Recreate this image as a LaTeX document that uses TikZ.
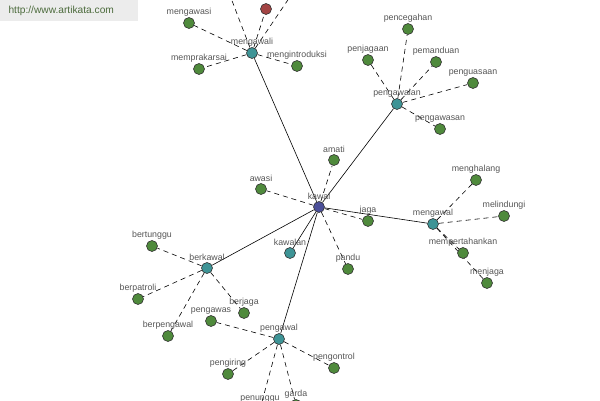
\documentclass[tikz,border=0pt]{standalone}
\usepackage{fontspec}
\setmainfont{Liberation Sans}
\usepackage{xcolor}
\usetikzlibrary{backgrounds}
\definecolor{LeafGreen}{HTML}{4F8A3C}
\definecolor{HubTeal}{HTML}{3E9496}
\definecolor{RootBlue}{HTML}{4B4F99}
\definecolor{OddRed}{HTML}{A34444}
\definecolor{LabelGray}{HTML}{555555}
\definecolor{MarkGray}{HTML}{ECECEC}
\definecolor{MarkText}{HTML}{4C6B3C}

\begin{document}
\begin{tikzpicture}[x=1pt,y=-1pt,
  leaf/.style={circle,draw=black!80,fill=LeafGreen,inner sep=0pt,minimum size=11pt,line width=0.6pt},
  hub/.style={leaf,fill=HubTeal},
  root/.style={leaf,fill=RootBlue},
  odd/.style={leaf,fill=OddRed},
  lbl/.style={font=\fontsize{8.8}{10}\selectfont,text=LabelGray,inner sep=1pt},
  link/.style={line width=0.6pt},
  weak/.style={line width=0.6pt,dash pattern=on 5pt off 4pt}
]
\useasboundingbox (0,0) rectangle (600,400);
% watermark
\fill[MarkGray] (0,0) rectangle (138,21);
\node[font=\fontsize{10.2}{11}\selectfont,text=MarkText,anchor=west] (site) at (5,11) {http://www.artikata.com};
% centre
\node[root,label={[lbl]above:kawal}] (kawal) at (319,207) {};
\node[leaf,label={[lbl]above:amati}] (amati) at (334,160) {};
\node[leaf,label={[lbl]above:awasi}] (awasi) at (261,189) {};
\node[leaf,label={[lbl]above:jaga}] (jaga) at (368,221) {};
\node[leaf,label={[lbl]above:pandu}] (pandu) at (348,269) {};
\node[hub,label={[lbl]above:kawalan}] (kawalan) at (290,253) {};
% mengawal
\node[hub,label={[lbl]above:mengawal}] (mengawal) at (433,224) {};
\node[leaf,label={[lbl]above:menghalang}] (menghalang) at (476,180) {};
\node[leaf,label={[lbl]above:melindungi}] (melindungi) at (504,216) {};
\node[leaf,label={[lbl]above:mempertahankan}] (mempertahankan) at (463,253) {};
\node[leaf,label={[lbl]above:menjaga}] (menjaga) at (487,283) {};
% pengawalan
\node[hub,label={[lbl]above:pengawalan}] (pengawalan) at (397,104) {};
\node[leaf,label={[lbl]above:pencegahan}] (pencegahan) at (408,29) {};
\node[leaf,label={[lbl]above:penjagaan}] (penjagaan) at (368,60) {};
\node[leaf,label={[lbl]above:pemanduan}] (pemanduan) at (436,62) {};
\node[leaf,label={[lbl]above:penguasaan}] (penguasaan) at (473,83) {};
\node[leaf,label={[lbl]above:pengawasan}] (pengawasan) at (440,129) {};
% mengawali
\node[hub,label={[lbl]above:mengawali}] (mengawali) at (252,53) {};
\node[leaf,label={[lbl]above:mengawasi}] (mengawasi) at (189,23) {};
\node[leaf,label={[lbl]above:memprakarsai}] (memprakarsai) at (199,69) {};
\node[leaf,label={[lbl]above:mengintroduksi}] (mengintroduksi) at (297,66) {};
\node[odd] (topred) at (266,9) {};
\coordinate (topleft) at (226,-15);
\coordinate (topright) at (298,-15);
% berkawal
\node[hub,label={[lbl]above:berkawal}] (berkawal) at (207,268) {};
\node[leaf,label={[lbl]above:bertunggu}] (bertunggu) at (152,246) {};
\node[leaf,label={[lbl]above:berpatroli}] (berpatroli) at (138,299) {};
\node[leaf,label={[lbl]above:berjaga}] (berjaga) at (244,313) {};
\node[leaf,label={[lbl]above:berpengawal}] (berpengawal) at (168,336) {};
% pengawal
\node[hub,label={[lbl]above:pengawal}] (pengawal) at (279,339) {};
\node[leaf,label={[lbl]above:pengawas}] (pengawas) at (211,321) {};
\node[leaf,label={[lbl]above:pengiring}] (pengiring) at (228,374) {};
\node[leaf,label={[lbl]above:pengontrol}] (pengontrol) at (334,368) {};
\node[leaf,label={[lbl]above:penunggu}] (penunggu) at (260,409) {};
\node[leaf,label={[lbl]above:garda}] (garda) at (296,405) {};
\begin{scope}[on background layer]
\draw[link] (kawal) -- (mengawal);
\draw[link] (kawal) -- (pengawalan);
\draw[link] (kawal) -- (mengawali);
\draw[link] (kawal) -- (berkawal);
\draw[link] (kawal) -- (pengawal);
\draw[link] (kawal) -- (kawalan);
\foreach \n in {amati,awasi,jaga,pandu}
  \draw[weak] (kawal) -- (\n);
\foreach \n in {menghalang,melindungi,mempertahankan,menjaga}
  \draw[weak] (mengawal) -- (\n);
\foreach \n in {pencegahan,penjagaan,pemanduan,penguasaan,pengawasan}
  \draw[weak] (pengawalan) -- (\n);
\foreach \n in {mengawasi,memprakarsai,mengintroduksi,topred,topleft,topright}
  \draw[weak] (mengawali) -- (\n);
\foreach \n in {bertunggu,berpatroli,berjaga,berpengawal}
  \draw[weak] (berkawal) -- (\n);
\foreach \n in {pengawas,pengiring,pengontrol,penunggu,garda}
  \draw[weak] (pengawal) -- (\n);
\end{scope}
\end{tikzpicture}
\end{document}
